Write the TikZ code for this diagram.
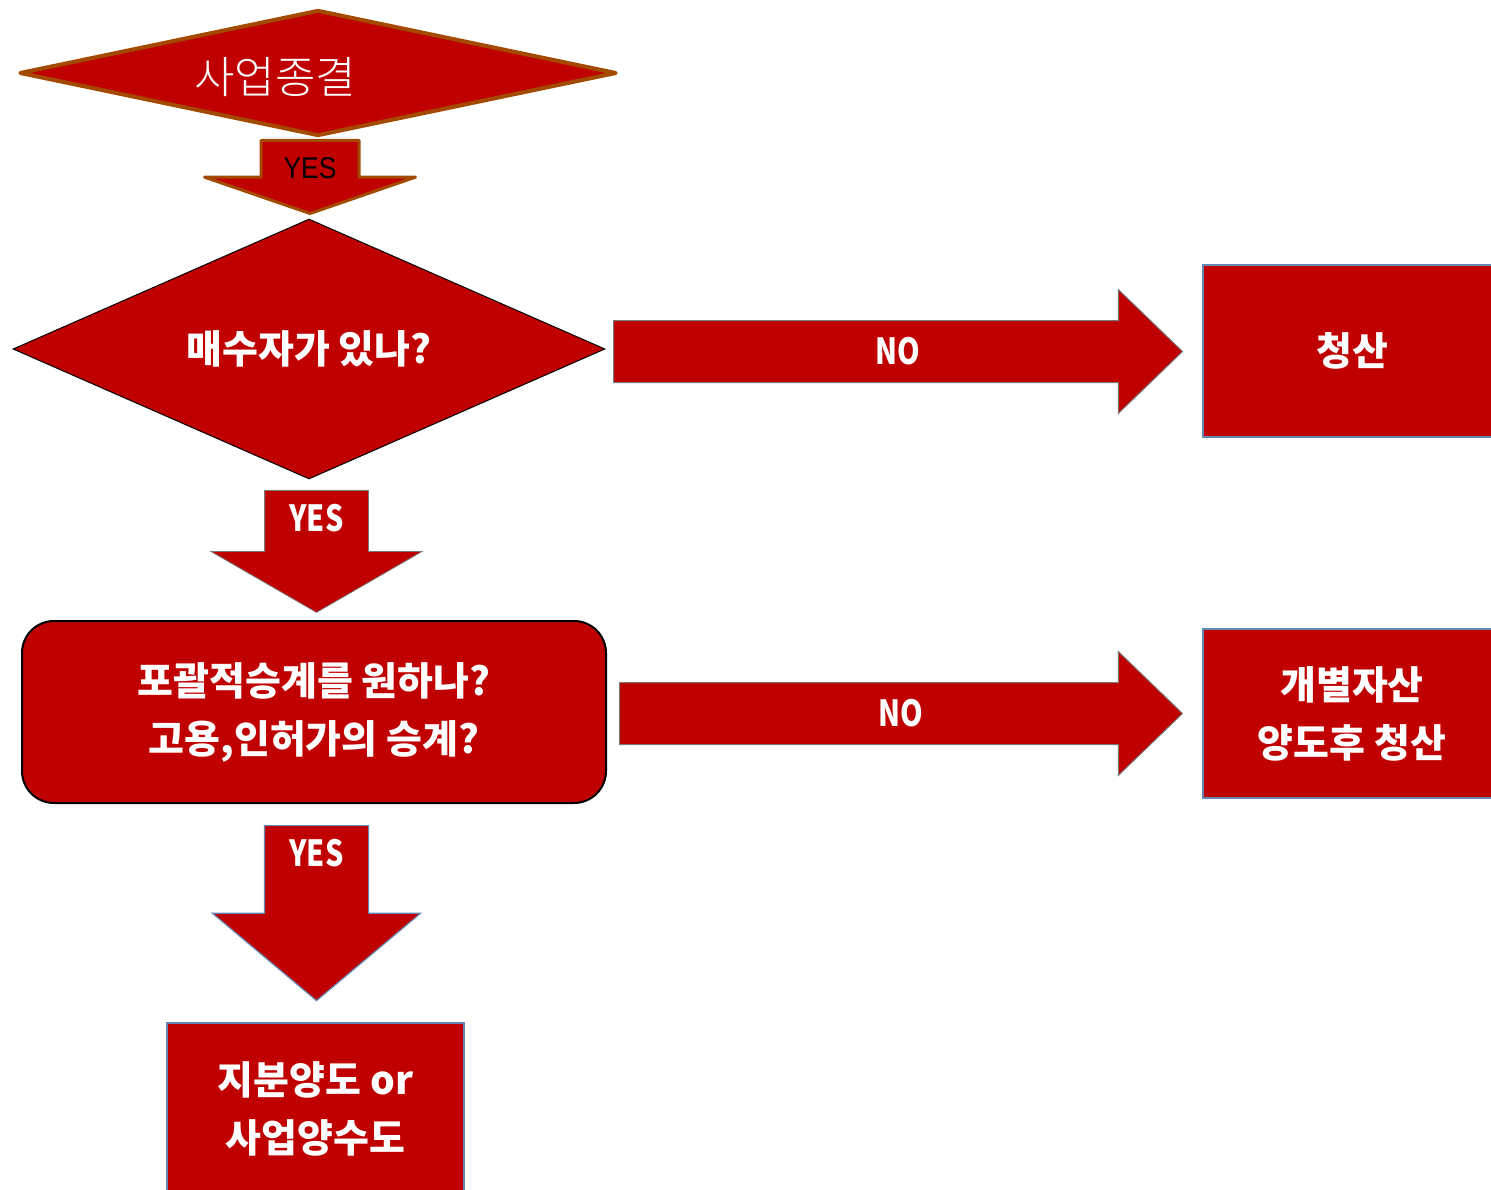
\documentclass[tikz,border=0pt]{standalone}
\usepackage{fontspec}
\usetikzlibrary{shapes.geometric,shapes.arrows,calc}
\newfontfamily\krfont{Noto Sans CJK KR}
\IfFontExistsTF{Noto Sans CJK KR Light}
  {\newfontfamily\krlight{Noto Sans CJK KR Light}}
  {\newfontfamily\krlight{Noto Sans CJK KR}}
\newfontfamily\yesfont[FakeStretch=0.8]{Noto Sans CJK KR}
\newfontfamily\topfont[FakeStretch=0.88]{Liberation Sans}
\definecolor{boxred}{RGB}{192,0,0}
\definecolor{rimbrown}{RGB}{163,73,0}
\definecolor{rimblue}{RGB}{100,135,180}
\definecolor{rimgray}{RGB}{120,120,120}

\begin{document}
\begin{tikzpicture}[x=1pt,y=-1pt,
  krtext/.style={font=\krfont\bfseries\fontsize{39}{58}\selectfont,text=white,align=center},
  decision/.style={diamond,fill=boxred,inner sep=0pt,krtext},
  result/.style={rectangle,fill=boxred,draw=rimblue,line width=1.5pt,krtext},
  downarrow/.style={single arrow,shape border rotate=270,fill=boxred,inner ysep=0pt,anchor=tail},
  rightarrow/.style={single arrow,fill=boxred,draw=rimgray,line width=1pt,inner xsep=0pt,inner ysep=30.5pt,
    anchor=tail,single arrow head extend=31pt,single arrow tip angle=88},
  arrtext/.style={font=\yesfont\bfseries\fontsize{36}{36}\selectfont,text=white,inner sep=0pt}]
  \useasboundingbox (0,0) rectangle (1491,1190);
  \clip (0,0) rectangle (1491,1190);

  % Decisions
  \node[decision,aspect=4.7,minimum width=597pt,minimum height=126pt,draw=rimbrown,line width=4pt,
        line join=round,font=\krlight\fontsize{44}{44}\selectfont,text depth=0pt]
        (stop) at (318,73) {\kern-86pt\raisebox{-4pt}{사업종결}};
  \node[decision,aspect=2.28,minimum width=592pt,minimum height=260pt,draw=black,line width=1pt]
        (buyer) at (309,349) {매수자가 있나?};
  \node[rectangle,rounded corners=32pt,fill=boxred,draw=black,line width=2pt,krtext,
        minimum width=584pt,minimum height=182pt] (whole) at (314,712)
        {포괄적승계를 원하나?\\고용,인허가의 승계?};

  % Results
  \node[result,minimum width=298pt,minimum height=172pt] (liq) at (1352,351) {청산};
  \node[result,minimum width=298pt,minimum height=169pt] (sell) at (1352,713.5) {개별자산\\양도후 청산};
  \node[result,minimum width=297pt,minimum height=172pt] (share) at (315.5,1109) {지분양도 or\\사업양수도};

  % YES arrows
  \node[downarrow,draw=rimbrown,line width=3pt,line join=round,inner xsep=47.5pt,minimum height=73pt,
        single arrow head extend=56.5pt,single arrow tip angle=142]
        (yes1) at ([xshift=-8pt,yshift=-1pt]stop.south) {};
  \node[downarrow,draw=rimgray,line width=0.8pt,inner xsep=51.5pt,minimum height=122pt,
        single arrow head extend=53.5pt,single arrow tip angle=120]
        (yes2) at ([xshift=7.5pt,yshift=-10.5pt]buyer.south) {};
  \node[downarrow,draw=rimblue,line width=1.2pt,inner xsep=51.5pt,minimum height=175pt,
        single arrow head extend=52pt,single arrow tip angle=100]
        (yes3) at ([xshift=2.5pt,yshift=-21pt]whole.south) {};

  % NO arrows
  \node[rightarrow,minimum height=569pt] (no1) at ([xshift=7.5pt,yshift=-2.5pt]buyer.east) {};
  \node[rightarrow,minimum height=563pt] (no2) at ([xshift=12pt,yshift=-1.5pt]whole.east) {};

  % Arrow texts
  \node[arrtext,text=black,font=\topfont\fontsize{30}{30}\selectfont] (yt1) at ($(yes1.tail)!0.38!(yes1.tip)$) {YES};
  \node[arrtext] (yt2) at ($(yes2.tail)!0.23!(yes2.tip)$) {YES};
  \node[arrtext] (yt3) at ($(yes3.tail)!0.16!(yes3.tip)$) {YES};
  \node[arrtext] (nt1) at ($(no1.tail)!0.5!(no1.tip)$) {NO};
  \node[arrtext] (nt2) at ($(no2.tail)!0.5!(no2.tip)$) {NO};
\end{tikzpicture}
\end{document}
